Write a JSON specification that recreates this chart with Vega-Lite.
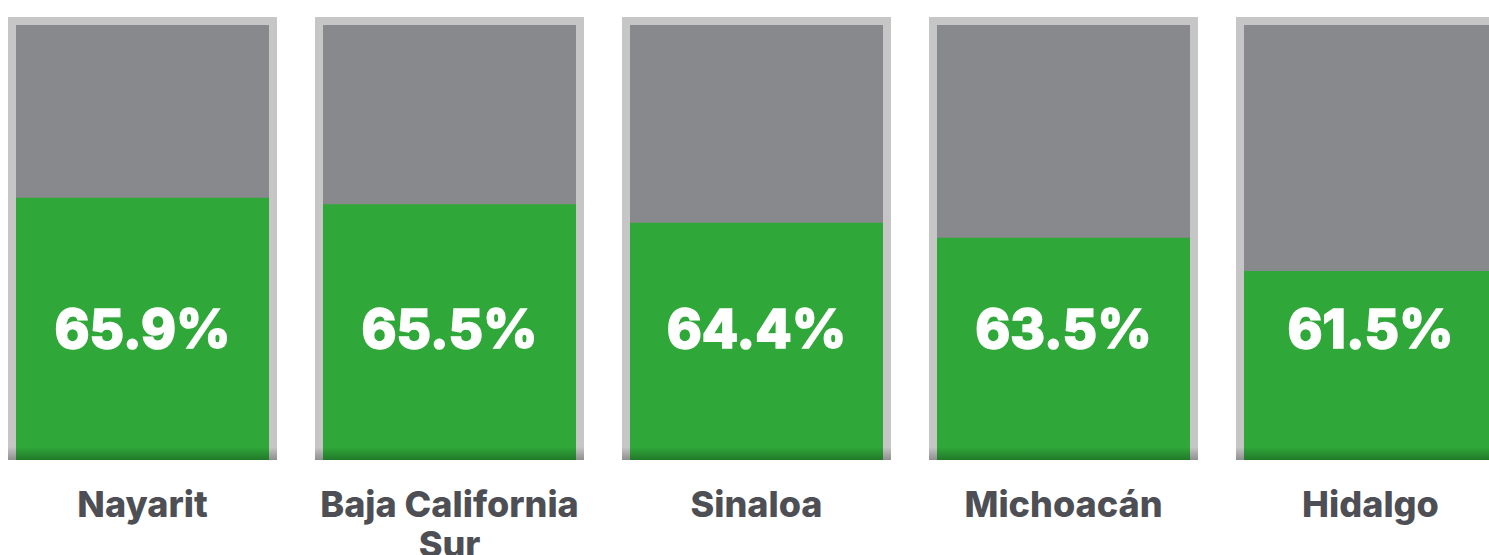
{
  "$schema": "https://vega.github.io/schema/vega-lite/v6.json",
  "width": 1489,
  "height": 460,
  "autosize": {"type": "none"},
  "padding": {"left": 0, "top": 0, "right": 0, "bottom": 95},
  "background": "white",
  "config": {"view": {"stroke": null}},
  "data": {
    "values": [
      {"estado": "Nayarit", "pct": 65.9, "etiqueta": "65.9%"},
      {"estado": "Baja California Sur", "pct": 65.5, "etiqueta": "65.5%"},
      {"estado": "Sinaloa", "pct": 64.4, "etiqueta": "64.4%"},
      {"estado": "Michoacán", "pct": 63.5, "etiqueta": "63.5%"},
      {"estado": "Hidalgo", "pct": 61.5, "etiqueta": "61.5%"}
    ]
  },
  "encoding": {
    "x": {
      "field": "estado",
      "type": "nominal",
      "sort": null,
      "scale": {"range": [0, 1513], "paddingInner": 0.1238, "paddingOuter": 0.0261},
      "axis": {
        "title": null,
        "domain": false,
        "ticks": false,
        "tickSize": 0,
        "grid": false,
        "labelAngle": 0,
        "labelFont": "Inter",
        "labelFontWeight": 800,
        "labelFontSize": 36,
        "labelColor": "#4e4f55",
        "labelPadding": 28,
        "labelLimit": 500,
        "labelLineHeight": 40,
        "labelBaseline": "top",
        "labelExpr": "datum.value == 'Baja California Sur' ? ['Baja California', 'Sur'] : datum.value"
      }
    }
  },
  "layer": [
    {
      "mark": {"type": "bar", "color": "#c6c6c6"},
      "encoding": {
        "y": {"datum": 76.74, "type": "quantitative", "scale": {"domain": [50.16, 77.76], "zero": false, "nice": false}, "axis": null},
        "y2": {"datum": 50.16}
      }
    },
    {
      "mark": {"type": "bar", "color": "#88898d", "size": 253},
      "encoding": {
        "y": {"datum": 76.26, "type": "quantitative"},
        "y2": {"datum": 50.16}
      }
    },
    {
      "mark": {"type": "bar", "color": "#2fa839", "size": 253},
      "encoding": {
        "y": {"field": "pct", "type": "quantitative"},
        "y2": {"datum": 50.16}
      }
    },
    {
      "mark": {
        "type": "bar",
        "color": {
          "gradient": "linear",
          "x1": 0, "y1": 0, "x2": 0, "y2": 1,
          "stops": [
            {"offset": 0, "color": "rgba(0,0,0,0)"},
            {"offset": 1, "color": "rgba(0,0,0,0.28)"}
          ]
        }
      },
      "encoding": {
        "y": {"datum": 50.94, "type": "quantitative"},
        "y2": {"datum": 50.16}
      }
    },
    {
      "mark": {"type": "text", "font": "Inter", "fontWeight": 800, "fontSize": 53, "color": "white", "stroke": "white", "strokeWidth": 1.5, "baseline": "middle", "align": "center"},
      "encoding": {
        "y": {"datum": 57.86, "type": "quantitative"},
        "text": {"field": "etiqueta", "type": "nominal"}
      }
    }
  ]
}
